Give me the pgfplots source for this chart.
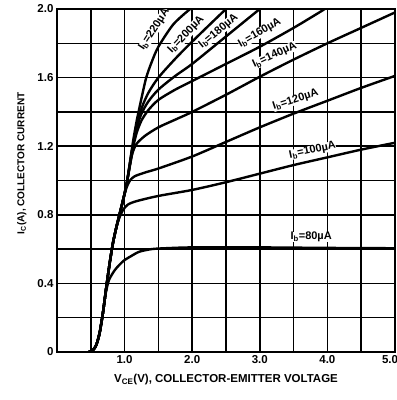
\documentclass[border=0pt]{standalone}
\usepackage{fontspec}
\setmainfont{Liberation Sans}
\usepackage{pgfplots}
\pgfplotsset{compat=1.18}
\begin{document}
\begin{tikzpicture}
\begin{axis}[
 scale only axis, width=338pt, height=343pt,
 xmin=0, xmax=5, ymin=0, ymax=2,
 xtick={1,2,3,4,5}, xticklabels={1.0,2.0,3.0,4.0,\makebox[0pt][r]{5.0\kern-3pt}},
 minor xtick={0.5,1.5,2.5,3.5,4.5},
 ytick={0,0.4,0.8,1.2,1.6,2.0}, yticklabels={0,0.4,0.8,1.2,1.6,2.0},
 minor ytick={0.2,0.6,1.0,1.4,1.8},
 grid=both,
 major grid style={black, line width=1.5pt},
 minor grid style={black, line width=1.5pt},
 tick style={draw=none},
 axis line style={line width=1.8pt},
 ticklabel style={font=\bfseries\fontsize{11.5}{13}\selectfont},
 xlabel={V\textsubscript{CE}(V), COLLECTOR-EMITTER VOLTAGE},
 ylabel={I\textsubscript{C}(A), COLLECTOR CURRENT},
 xlabel style={at={(axis description cs:0.5,-0.08)}, anchor=center, font=\bfseries\fontsize{11.5}{13}\selectfont},
 ylabel style={at={(axis description cs:-0.104,0.55)}, anchor=center, font=\bfseries\fontsize{10}{12}\selectfont},
 clip=true,
]
\pgfplotsset{cv/.style={black, solid, line width=2.4pt, smooth, tension=0.45, mark=none}}
% Ib = 80 uA
\addplot[cv] coordinates {(0.47,0)(0.53,0.01)(0.58,0.04)(0.63,0.11)(0.68,0.23)(0.72,0.34)(0.77,0.42)(0.86,0.48)(0.98,0.53)(1.1,0.56)(1.22,0.585)(1.4,0.60)(1.6,0.605)(2.0,0.61)(3.0,0.61)(4.0,0.607)(5.0,0.605)};
% Ib = 100 uA
\addplot[cv] coordinates {(0.47,0)(0.53,0.01)(0.58,0.04)(0.63,0.11)(0.68,0.23)(0.73,0.38)(0.78,0.52)(0.83,0.64)(0.88,0.73)(0.93,0.79)(0.98,0.83)(1.05,0.86)(1.18,0.88)(1.5,0.91)(2.0,0.945)(2.5,0.99)(3.0,1.04)(3.5,1.09)(4.0,1.135)(4.5,1.18)(5.0,1.22)};
% Ib = 120 uA
\addplot[cv] coordinates {(0.47,0)(0.53,0.01)(0.58,0.04)(0.63,0.11)(0.68,0.23)(0.73,0.38)(0.78,0.52)(0.83,0.64)(0.88,0.73)(0.93,0.81)(0.98,0.89)(1.03,0.96)(1.08,1.0)(1.15,1.025)(1.33,1.05)(1.5,1.07)(2.0,1.14)(2.5,1.225)(3.0,1.31)(3.5,1.39)(4.0,1.465)(4.5,1.54)(5.0,1.61)};
% Ib = 140 uA
\addplot[cv] coordinates {(0.47,0)(0.53,0.01)(0.58,0.04)(0.63,0.11)(0.68,0.23)(0.73,0.38)(0.78,0.52)(0.83,0.64)(0.88,0.73)(0.93,0.81)(0.98,0.89)(1.03,0.98)(1.07,1.07)(1.11,1.15)(1.17,1.21)(1.3,1.26)(1.5,1.31)(1.75,1.355)(2.0,1.40)(2.5,1.50)(3.0,1.605)(3.5,1.705)(4.0,1.80)(4.5,1.89)(5.0,1.98)};
% Ib = 160 uA
\addplot[cv] coordinates {(0.47,0)(0.53,0.01)(0.58,0.04)(0.63,0.11)(0.68,0.23)(0.73,0.38)(0.78,0.52)(0.83,0.64)(0.88,0.73)(0.93,0.81)(0.98,0.89)(1.03,0.98)(1.08,1.09)(1.13,1.2)(1.18,1.28)(1.25,1.35)(1.35,1.41)(1.5,1.47)(1.75,1.53)(2.0,1.58)(2.5,1.68)(3.0,1.78)(3.5,1.89)(3.88,1.98)(4.0,2.01)};
% Ib = 180 uA
\addplot[cv] coordinates {(0.47,0)(0.53,0.01)(0.58,0.04)(0.63,0.11)(0.68,0.23)(0.73,0.38)(0.78,0.52)(0.83,0.64)(0.88,0.73)(0.93,0.81)(0.98,0.89)(1.03,0.98)(1.08,1.10)(1.13,1.22)(1.18,1.31)(1.25,1.39)(1.35,1.46)(1.5,1.53)(1.75,1.61)(2.0,1.68)(2.5,1.84)(3.0,2.0)(3.1,2.03)};
% Ib = 200 uA
\addplot[cv] coordinates {(0.47,0)(0.53,0.01)(0.58,0.04)(0.63,0.11)(0.68,0.23)(0.73,0.38)(0.78,0.52)(0.83,0.64)(0.88,0.73)(0.93,0.81)(0.98,0.89)(1.03,0.98)(1.08,1.10)(1.13,1.22)(1.18,1.32)(1.25,1.42)(1.35,1.51)(1.5,1.60)(1.75,1.71)(2.0,1.81)(2.5,2.0)(2.6,2.03)};
% Ib = 220 uA
\addplot[cv] coordinates {(0.47,0)(0.53,0.01)(0.58,0.04)(0.63,0.11)(0.68,0.23)(0.73,0.38)(0.78,0.52)(0.83,0.64)(0.88,0.73)(0.93,0.81)(0.98,0.89)(1.03,0.98)(1.08,1.11)(1.13,1.24)(1.18,1.35)(1.25,1.48)(1.32,1.60)(1.4,1.69)(1.5,1.78)(1.72,1.91)(1.97,2.0)(2.1,2.03)};
\begin{scope}[every node/.style={font=\bfseries\fontsize{11}{12}\selectfont, fill=white, inner sep=0pt}]
\node[rotate=57] at (axis cs:1.44,1.88) {I\textsubscript{b}=220µA};
\node[rotate=47] at (axis cs:1.91,1.85) {I\textsubscript{b}=200µA};
\node[rotate=40] at (axis cs:2.39,1.87) {I\textsubscript{b}=180µA};
\node[rotate=30] at (axis cs:3.00,1.86) {I\textsubscript{b}=160µA};
\node[rotate=25] at (axis cs:3.22,1.73) {I\textsubscript{b}=140µA};
\node[rotate=18] at (axis cs:3.53,1.47) {I\textsubscript{b}=120µA};
\node[rotate=12] at (axis cs:3.78,1.175) {I\textsubscript{b}=100µA};
\node at (axis cs:3.76,0.67) {I\textsubscript{b}=80µA};
\end{scope}
\end{axis}
\pgfresetboundingbox
\path (-57pt,-48pt) rectangle (340pt,352pt);
\end{tikzpicture}
\end{document}
